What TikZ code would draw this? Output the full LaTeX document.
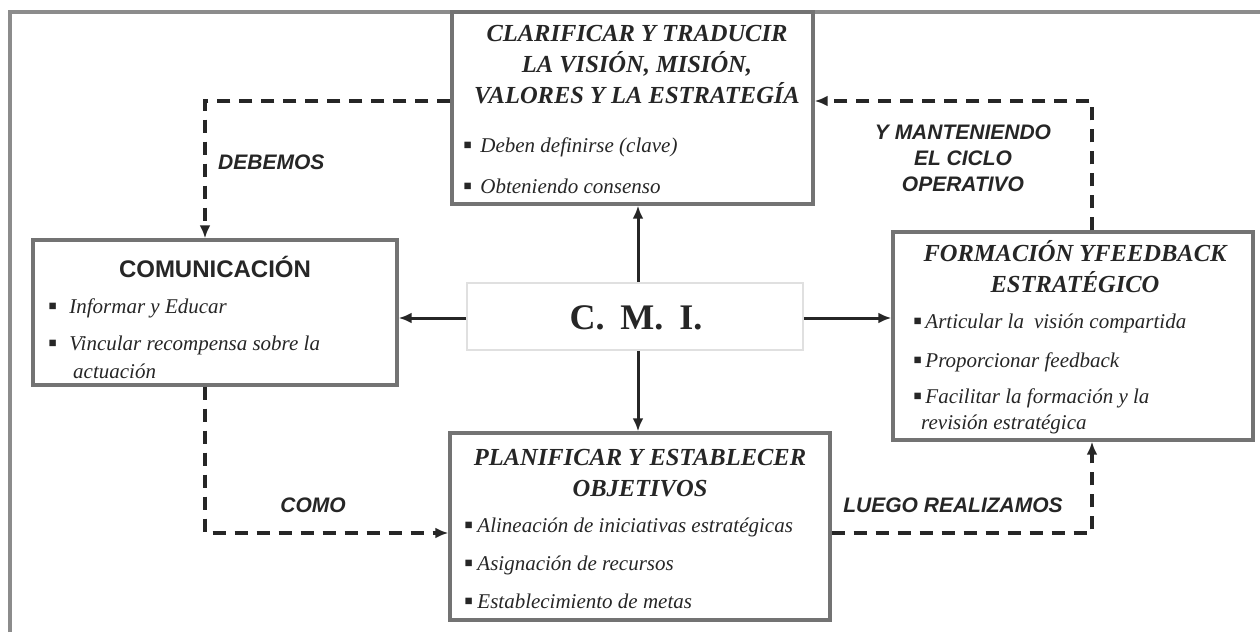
\documentclass[tikz,border=0pt]{standalone}
\usepackage{fontspec}
\setmainfont{Liberation Serif}
\setsansfont{Liberation Sans}
\usetikzlibrary{arrows.meta}
\newcommand{\bl}{{\fontsize{26}{26}\selectfont\upshape\raisebox{-1pt}{▪}}}
\begin{document}
\begin{tikzpicture}[x=1pt,y=-1pt,
  box/.style={draw=black!55, line width=3.4pt, inner sep=0pt, fill=white},
  cmibox/.style={draw=black!12, line width=1.6pt, inner sep=0pt, fill=white},
  ttl/.style={font=\fontsize{24.5}{31}\selectfont\bfseries\itshape, text=black!85, align=center, inner sep=0pt},
  bul/.style={font=\fontsize{21}{26}\selectfont\itshape, text=black!85, anchor=west, inner sep=0pt},
  lbl/.style={font=\fontsize{21}{26}\selectfont\sffamily\bfseries\itshape, text=black!85, align=center, inner sep=0pt},
  solidarrow/.style={line width=3pt, black!85, -{Latex[length=13pt,width=11pt]}},
  dasharrow/.style={line width=3.6pt, black!85, dash pattern=on 13pt off 9pt, -{Latex[length=13pt,width=11pt]}}
]
\useasboundingbox (0,0) rectangle (1260,632);
\fill[white] (0,0) rectangle (1260,632);
% outer frame
\draw[line width=3.2pt, black!45] (10,632) -- (10,12) -- (1260,12);

% boxes
\node[box, minimum width=361pt, minimum height=192pt] (top) at (632.5,108) {};
\node[box, minimum width=364pt, minimum height=145pt] (com) at (215,312.5) {};
\node[box, minimum width=360pt, minimum height=208pt] (form) at (1073,336) {};
\node[box, minimum width=380pt, minimum height=187pt] (plan) at (640,526.5) {};
\node[cmibox, minimum width=336pt, minimum height=67pt] (cmi) at (635,316.5) {};

% CMI text
\node[font=\fontsize{36}{40}\selectfont\bfseries, text=black!85, inner sep=0pt] (cmit) at (636,318) {C.\hspace{16pt}M.\hspace{16pt}I.};

% top box
\node[ttl] (toptitle) at (637,65) {CLARIFICAR Y TRADUCIR\\LA VISIÓN, MISIÓN,\\VALORES Y LA ESTRATEGÍA};
\node[bul] (topb1) at (463,147) {\bl\hspace{8pt}Deben definirse (clave)};
\node[bul] (topb2) at (463,187) {\bl\hspace{8pt}Obteniendo consenso};

% comunicacion
\node[font=\fontsize{24}{30}\selectfont\sffamily\bfseries, text=black!85, inner sep=0pt] (comtitle) at (215,267) {COMUNICACIÓN};
\node[bul] (comb1) at (48,308) {\bl\hspace{12pt}Informar y Educar};
\node[bul] (comb2) at (48,345) {\bl\hspace{12pt}Vincular recompensa sobre la};
\node[bul] (comb3) at (73,371) {actuación};

% formacion
\node[ttl] (formtitle) at (1075,267) {FORMACIÓN YFEEDBACK\\ESTRATÉGICO};
\node[bul] (formb1) at (913,323) {\bl\hspace{3pt}Articular la\hspace{10pt}visión compartida};
\node[bul] (formb2) at (913,362) {\bl\hspace{3pt}Proporcionar feedback};
\node[bul] (formb3) at (913,398) {\bl\hspace{3pt}Facilitar la formación y la};
\node[bul] (formb4) at (921,424) {revisión estratégica};

% planificar
\node[ttl] (plantitle) at (640,473) {PLANIFICAR Y ESTABLECER\\OBJETIVOS};
\node[bul] (planb1) at (464,527) {\bl\hspace{4pt}Alineación de iniciativas estratégicas};
\node[bul] (planb2) at (464,565) {\bl\hspace{4pt}Asignación de recursos};
\node[bul] (planb3) at (464,602) {\bl\hspace{4pt}Establecimiento de metas};

% solid arrows from CMI
\draw[solidarrow] (cmi.north -| 638,0) -- (top.south -| 638,0);
\draw[solidarrow] (cmi.south -| 638,0) -- (plan.north -| 638,0);
\draw[solidarrow] (cmi.west |- 0,318) -- (com.east |- 0,318);
\draw[solidarrow] (cmi.east |- 0,318) -- (form.west |- 0,318);

% dashed loop
\coordinate (dL) at (205,101);
\coordinate (dB) at (205,533);
\coordinate (dR) at (1092,533);
\coordinate (dT) at (1092,101);
\draw[dasharrow] (top.west |- dL) -- (dL) -- (com.north -| dL);
\draw[dasharrow] (com.south -| dB) -- (dB) -- (plan.west |- dB);
\draw[dasharrow] (plan.east |- dR) -- (dR) -- (form.south -| dR);
\draw[dasharrow] (form.north -| dT) -- (dT) -- (top.east |- dT);

% labels
\node[lbl, anchor=west] (debemos) at (218,162) {DEBEMOS};
\node[lbl] (como) at (313,505) {COMO};
\node[lbl] (luego) at (953,505) {LUEGO REALIZAMOS};
\node[lbl] (mant) at (963,158) {Y MANTENIENDO\\EL CICLO\\OPERATIVO};
\end{tikzpicture}
\end{document}
